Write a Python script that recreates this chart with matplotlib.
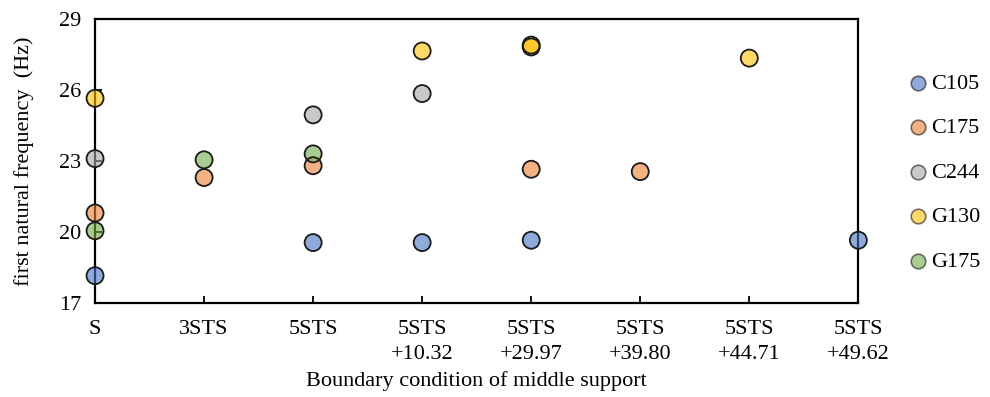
import numpy as np
import matplotlib.pyplot as plt

plt.rcParams['font.family'] = ['Liberation Serif', 'DejaVu Serif']

# categories on the x axis
conditions = ["S", "3STS", "5STS", "5STS\n+10.32", "5STS\n+29.97",
              "5STS\n+39.80", "5STS\n+44.71", "5STS\n+49.62"]

# first natural frequency (Hz), one list of (category index, value) per section
c105_idx = [0, 2, 3, 4, 7]
c105_val = [18.15, 19.55, 19.55, 19.65, 19.65]
c175_idx = [0, 1, 2, 4, 5]
c175_val = [20.8, 22.3, 22.8, 22.65, 22.55]
c244_idx = [0, 2, 3]
c244_val = [23.1, 24.95, 25.85]
g130_idx = [0, 3, 4, 4, 6]
g130_val = [25.65, 27.65, 27.9, 27.82, 27.35]
g175_idx = [0, 1, 2]
g175_val = [20.05, 23.05, 23.3]

series = [
    ("C105", c105_idx, c105_val, "#4472C4"),
    ("C175", c175_idx, c175_val, "#ED7D31"),
    ("C244", c244_idx, c244_val, "#A5A5A5"),
    ("G130", g130_idx, g130_val, "#FFC000"),
    ("G175", g175_idx, g175_val, "#70AD47"),
]

fig = plt.figure(figsize=(9.9, 3.97), dpi=100)
ax = fig.add_axes([0.096, 0.237, 0.771, 0.715])

for name, idx, val, col in series:
    ax.scatter(idx, val, s=150, color=col, alpha=0.6, edgecolors="none",
               zorder=3, clip_on=False)
    ax.scatter(idx, val, s=150, facecolors="none", edgecolors="#1a1a1a",
               linewidths=1.3, zorder=4, clip_on=False)
    # legend proxy
    ax.scatter([], [], s=110, color=col, alpha=0.6, edgecolors="#1a1a1a",
               linewidths=1.2, label=name)

ax.set_xlim(0, len(conditions) - 1)
ax.set_ylim(17, 29)
ax.set_yticks([17, 20, 23, 26, 29])
ax.set_xticks(np.arange(len(conditions)))
ax.set_xticklabels(conditions, linespacing=1.45)
ax.tick_params(axis="both", direction="in", length=5, width=1.3,
               labelsize=16, colors="black")
ax.tick_params(axis="x", pad=12)
ax.tick_params(axis="y", pad=10)

for sp in ax.spines.values():
    sp.set_linewidth(1.6)
    sp.set_color("black")

ax.set_xlabel("Boundary condition of middle support", fontsize=16, labelpad=5)
ax.set_ylabel("first natural frequency  (Hz)", fontsize=16, labelpad=18)

leg = ax.legend(loc="center left", bbox_to_anchor=(1.066, 0.46), frameon=False,
                fontsize=16, handlelength=0.8, handletextpad=0.2,
                labelspacing=1.08, borderaxespad=0, borderpad=0)

fig.savefig("out.png", dpi=100)
